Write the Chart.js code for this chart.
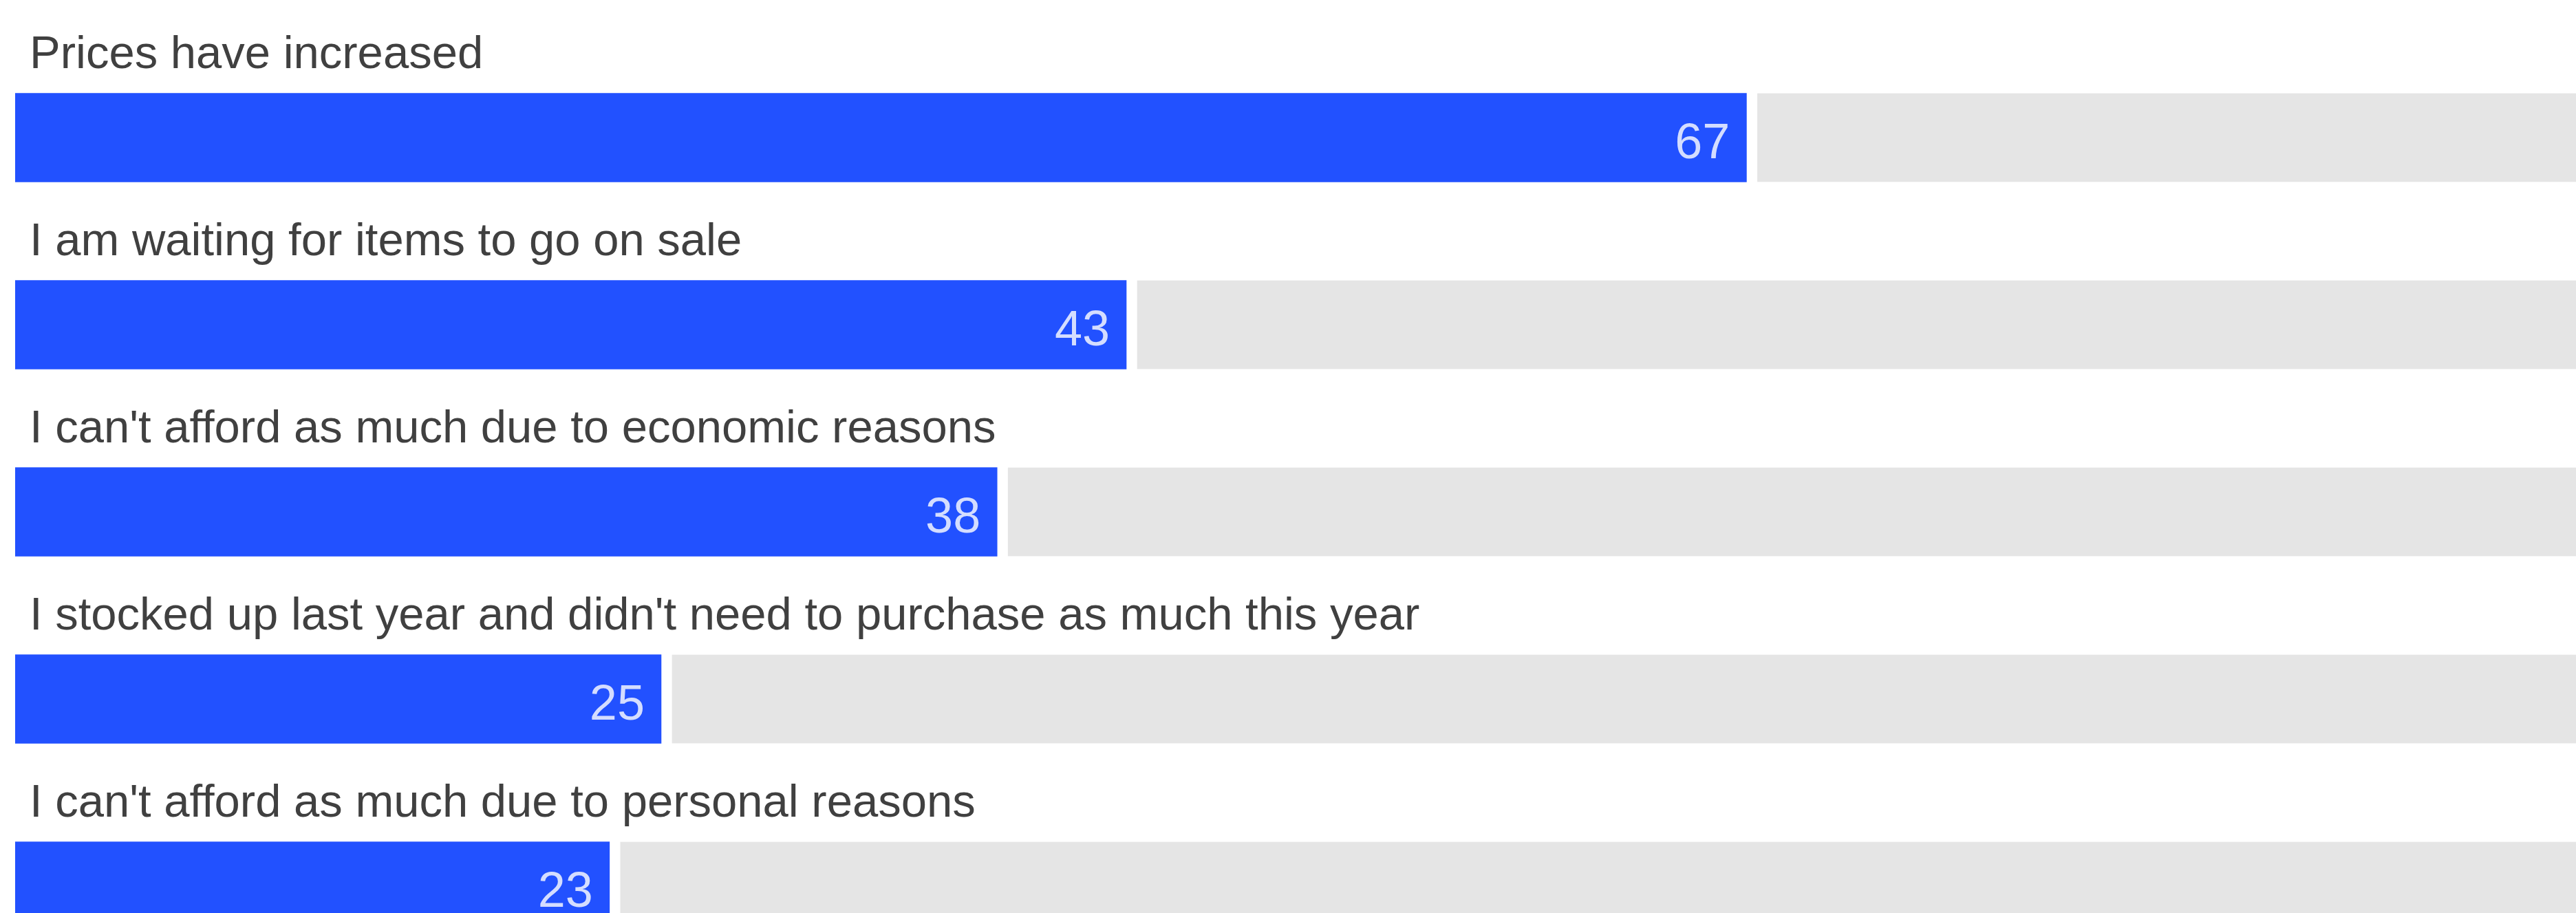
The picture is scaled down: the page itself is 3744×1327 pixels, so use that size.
<!DOCTYPE html>
<html>
<head>
<meta charset="utf-8">
<script src="https://cdn.jsdelivr.net/npm/chart.js@4/dist/chart.umd.min.js"></script>
<style>
  html, body { margin: 0; padding: 0; background: #fff; overflow: hidden; }
  #wrap { width: 3744px; height: 1424px; position: relative; }
</style>
</head>
<body>
<div id="wrap"><canvas id="reasonsChart"></canvas></div>
<script>
let reasons = [
    'Prices have increased',
    'I am waiting for items to go on sale',
    "I can't afford as much due to economic reasons",
    "I stocked up last year and didn't need to purchase as much this year",
    "I can't afford as much due to personal reasons"
];
let shares = [67, 43, 38, 25, 23];
let fullScale = 100;

// grey track = what is left up to 100%
let rest = shares.map(v => fullScale - v);

let labelFont = '"Liberation Sans", Arial, sans-serif';

// numbers written inside the end of each blue bar
let valueLabels = {
    id: 'valueLabels',
    afterDatasetsDraw(chart) {
        let ctx = chart.ctx;
        let meta = chart.getDatasetMeta(0);
        ctx.save();
        ctx.font = '72px ' + labelFont;
        ctx.fillStyle = '#d4ddff';
        ctx.textAlign = 'right';
        ctx.textBaseline = 'alphabetic';
        meta.data.forEach((bar, i) => {
            ctx.fillText(shares[i], bar.x - 24, bar.y + 30);
        });
        ctx.restore();
    }
};

let reasonsChart = document.getElementById('reasonsChart').getContext('2d');

let barReasonsChart = new Chart(reasonsChart, {
    type: 'bar',
    data: {
        labels: reasons,
        datasets: [{
            label: 'Share',
            data: shares,
            backgroundColor: '#2251ff',
            barThickness: 129,
            borderWidth: 0
        }, {
            label: 'Rest',
            data: rest,
            backgroundColor: '#e5e5e5',
            borderColor: '#ffffff',
            borderSkipped: false,
            borderWidth: { left: 16, right: 0, top: 0, bottom: 0 },
            barThickness: 129
        }]
    },
    options: {
        indexAxis: 'y',
        responsive: true,
        maintainAspectRatio: false,
        animation: false,
        layout: { padding: { left: 22, right: 0, top: 64, bottom: 0 } },
        plugins: {
            legend: { display: false },
            tooltip: { enabled: false }
        },
        scales: {
            x: { stacked: true, min: 0, max: 99.1, display: false },
            y: {
                stacked: true,
                offset: true,
                grid: { display: false },
                border: { display: false },
                // labels sit above the bars, so the axis takes no room
                afterFit(scale) {
                    scale.width = 0;
                    scale.paddingTop = 0;
                    scale.paddingBottom = 0;
                },
                ticks: {
                    mirror: true,
                    padding: 21,
                    labelOffset: -119,
                    color: '#404040',
                    font: { family: labelFont, size: 67 }
                }
            }
        }
    },
    plugins: [valueLabels]
});
</script>
</body>
</html>
